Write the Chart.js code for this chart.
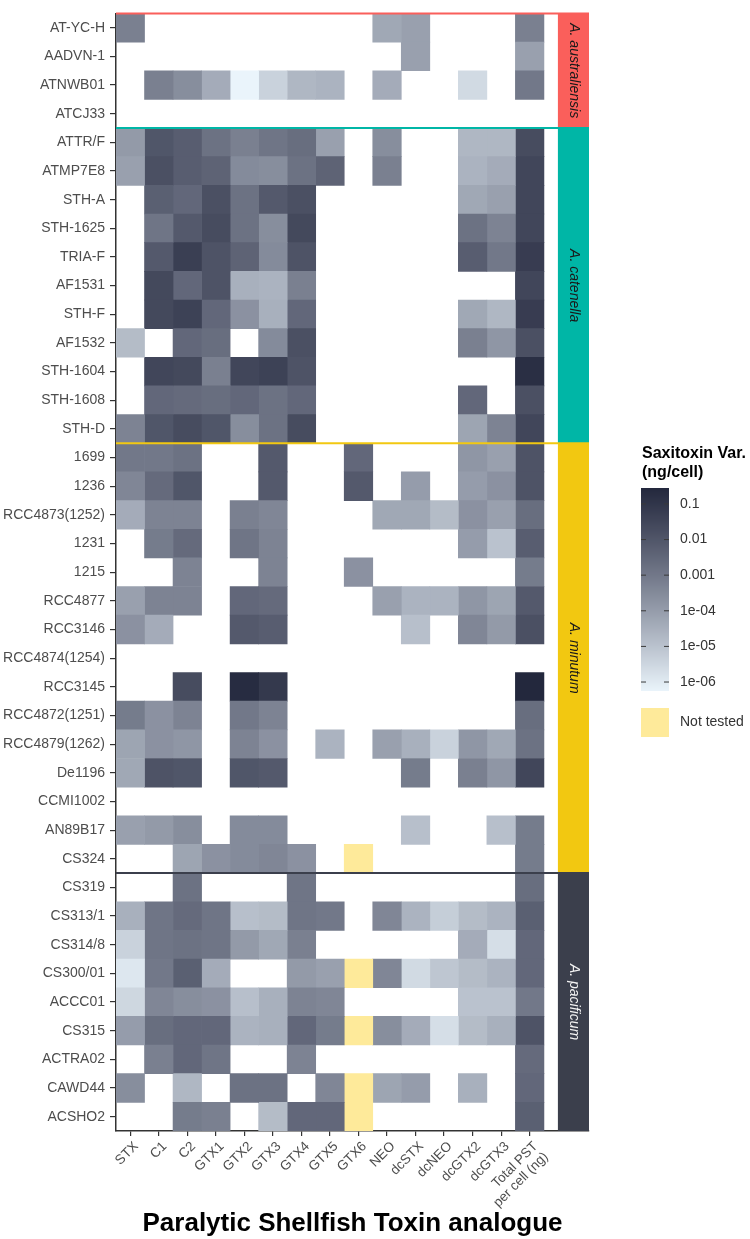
<!DOCTYPE html>
<html>
<head>
<meta charset="utf-8">
<title>PST analogue heatmap</title>
<script src="https://cdn.jsdelivr.net/npm/chart.js@4.4.1/dist/chart.umd.min.js"></script>
<style>
  html, body { margin: 0; padding: 0; background: #ffffff; }
  #wrap { position: relative; width: 750px; height: 1239px; }
</style>
</head>
<body>
<div id="wrap"><canvas id="heatmap"></canvas></div>
<script>
// Strains, top to bottom
const strains = [
    'AT-YC-H', 'AADVN-1', 'ATNWB01', 'ATCJ33',
    'ATTR/F', 'ATMP7E8', 'STH-A', 'STH-1625', 'TRIA-F', 'AF1531', 'STH-F', 'AF1532', 'STH-1604', 'STH-1608', 'STH-D',
    '1699', '1236', 'RCC4873(1252)', '1231', '1215', 'RCC4877', 'RCC3146', 'RCC4874(1254)', 'RCC3145',
    'RCC4872(1251)', 'RCC4879(1262)', 'De1196', 'CCMI1002', 'AN89B17', 'CS324',
    'CS319', 'CS313/1', 'CS314/8', 'CS300/01', 'ACCC01', 'CS315', 'ACTRA02', 'CAWD44', 'ACSHO2'
];

const species = ['A. australiensis', 'A. catenella', 'A. minutum', 'A. pacificum'];
const speciesCounts = [4, 11, 15, 9];
const speciesColors = ['#FA5F5B', '#00B6A6', '#F2C811', '#3B3F4C'];
const stripTextColors = ['#1a1a1a', '#1a1a1a', '#1a1a1a', '#f2f2f2'];

const toxinLabels = ['STX', 'C1', 'C2', 'GTX1', 'GTX2', 'GTX3', 'GTX4', 'GTX5', 'GTX6',
    'NEO', 'dcSTX', 'dcNEO', 'dcGTX2', 'dcGTX3', ['Total PST', 'per cell (ng)']];

// ng/cell, null = not detected, NT = not tested
const NT = 'NT';
const STX = [
    6e-4, null, null, null,
    1.2e-4, 8e-5, null, null, null, null, null, 1.5e-5, null, null, 5e-4,
    1e-3, 4e-4, 4e-5, null, null, 8e-5, 2e-4, null, null, 8e-4, 6e-5, 5e-5, null, 8e-5, null,
    null, 3e-5, 4e-6, 1.2e-6, 3e-6, 1e-4, null, 2.5e-4, null
];
const C1 = [
    null, null, 6e-4, null,
    0.01, 0.015, 0.005, 0.0012, 0.008, 0.025, 0.025, null, 0.03, 0.003, 0.01,
    1e-3, 0.0025, 5e-4, 8e-4, null, 5e-4, 4e-5, null, null, 2e-4, 2e-4, 0.012, null, 1.2e-4, null,
    null, 0.0012, 0.0012, 1e-3, 4e-4, 0.002, 6e-4, null, null
];
const C2 = [
    null, null, 2.5e-4, null,
    0.006, 0.006, 0.003, 0.008, 0.05, 0.003, 0.04, 0.003, 0.025, 0.0025, 0.02,
    0.0015, 0.01, 5e-4, 0.0025, 5e-4, 5e-4, null, null, 0.02, 5e-4, 1.5e-4, 0.01, null, 2.5e-4, 6e-5,
    0.0015, 0.0025, 0.0015, 0.005, 2.5e-4, 0.003, 0.003, 2e-5, 8e-4
];
const GTX1 = [
    null, null, 4e-5, null,
    0.0015, 0.004, 0.015, 0.02, 0.012, 0.012, 0.003, 0.002, 6e-4, 0.002, 0.01,
    null, null, null, null, null, null, null, null, null, null, null, null, null, null, 2e-4,
    null, 0.0012, 0.0012, 4e-5, 2e-4, 0.003, 0.0012, null, 6e-4
];
const GTX2 = [
    null, null, 5.6e-7, null,
    6e-4, 3e-4, 0.0015, 0.0015, 0.004, 3e-5, 2e-4, null, 0.03, 0.003, 2.5e-4,
    null, null, 6e-4, 0.0012, null, 0.003, 0.008, null, 0.2, 1e-3, 5e-4, 0.01, null, 3e-4, 3e-4,
    null, 1.2e-5, 1.2e-4, null, 1.2e-5, 2.5e-5, null, 0.0015, null
];
const GTX3 = [
    null, null, 4e-6, null,
    0.0012, 2.5e-4, 0.008, 2.5e-4, 3e-4, 2.5e-5, 3e-5, 3e-4, 0.04, 0.0015, 0.0015,
    0.008, 0.008, 4e-4, 5e-4, 5e-4, 0.0025, 0.006, null, 0.08, 5e-4, 2e-4, 0.008, null, 3e-4, 4e-4,
    null, 1.5e-5, 5e-5, null, 3e-5, 3e-5, null, 0.0015, 1.5e-5
];
const GTX4 = [
    null, null, 2e-5, null,
    0.002, 0.0015, 0.015, 0.025, 0.012, 6e-4, 0.003, 0.015, 0.012, 0.003, 0.02,
    null, null, null, null, null, null, null, null, null, null, null, null, null, null, 2e-4,
    0.0012, 0.0012, 6e-4, 1.2e-4, 5e-4, 0.003, 5e-4, null, 0.003
];
const GTX5 = [
    null, null, 2.5e-5, null,
    8e-5, 0.004, null, null, null, null, null, null, null, null, null,
    null, null, null, null, null, null, null, null, null, null, 2.5e-5, null, null, null, null,
    null, 1e-3, null, 8e-5, 4e-4, 8e-4, null, 4e-4, 0.003
];
const GTX6 = [
    null, null, null, null,
    null, null, null, null, null, null, null, null, null, null, null,
    0.003, 0.008, null, null, 2e-4, null, null, null, null, null, null, null, null, null, NT,
    null, null, null, NT, null, NT, null, NT, NT
];
const NEO = [
    5e-5, null, 4e-5, null,
    2.5e-4, 6e-4, null, null, null, null, null, null, null, null, null,
    null, null, 5e-5, null, null, 8e-5, null, null, null, null, 8e-5, null, null, null, null,
    null, 4e-4, null, 4e-4, null, 2.5e-4, null, 6e-5, null
];
const dcSTX = [
    8e-5, 8e-5, null, null,
    null, null, null, null, null, null, null, null, null, null, null,
    null, 1e-4, 5e-5, null, null, 2.5e-5, 1.2e-5, null, null, null, 3e-5, 8e-4, null, 1.2e-5, null,
    null, 2.5e-5, null, 2.5e-6, null, 4e-5, null, 1e-4, null
];
const dcNEO = [
    null, null, null, null,
    null, null, null, null, null, null, null, null, null, null, null,
    null, null, 1.5e-5, null, null, 2.5e-5, null, null, null, null, 4e-6, null, null, null, null,
    null, 5e-6, null, 8e-6, null, 2e-6, null, null, null
];
const dcGTX2 = [
    null, null, 2.5e-6, null,
    2e-5, 2.5e-5, 5e-5, 0.0015, 0.006, null, 5e-5, 6e-4, null, 0.003, 6e-5,
    1.5e-4, 1e-4, 2e-4, 1e-4, null, 1.5e-4, 4e-4, null, null, null, 1.5e-4, 6e-4, null, null, null,
    null, 1.5e-5, 4e-5, 1.5e-5, 1e-5, 1.5e-5, null, 3e-5, null
];
const dcGTX3 = [
    null, null, null, null,
    2e-5, 4e-5, 8e-5, 5e-4, 1e-3, null, 2e-5, 1.5e-4, null, null, 5e-4,
    8e-5, 2e-4, 8e-5, 1e-5, null, 6e-5, 1.2e-4, null, null, null, 5e-5, 1.5e-4, null, 1.2e-5, null,
    null, 2.5e-5, 2e-6, 2.5e-5, 1e-5, 3e-5, null, null, null
];
const TotalPST = [
    6e-4, 8e-5, 1e-3, null,
    0.02, 0.03, 0.03, 0.03, 0.06, 0.03, 0.06, 0.015, 0.16, 0.015, 0.03,
    0.012, 0.012, 0.002, 0.006, 8e-4, 0.008, 0.015, null, 0.28, 0.002, 0.0015, 0.03, null, 8e-4, 8e-4,
    0.002, 0.005, 0.003, 0.003, 1e-3, 0.012, 0.0025, 0.003, 0.005
];

const legendBreaks = [0.1, 0.01, 0.001, 1e-4, 1e-5, 1e-6];
const legendBreakLabels = ['0.1', '0.01', '0.001', '1e-04', '1e-05', '1e-06'];

const columns = [STX, C1, C2, GTX1, GTX2, GTX3, GTX4, GTX5, GTX6, NEO, dcSTX, dcNEO, dcGTX2, dcGTX3, TotalPST];

const FONT = "'Liberation Sans', Arial, Helvetica, sans-serif";
const LOW = '#EAF4FB';
const HIGH = '#23283D';
const NT_COLOR = '#FEEA9A';

// strip sits right of the last column, in x units
const stripFrom = 15.49;
const stripTo = 16.58;

// --- colour scale (log10, interpolated in CIELAB like ggplot) ---
function hex2rgb(h) {
    return [1, 3, 5].map(i => parseInt(h.slice(i, i + 2), 16));
}
function lin(c) {
    c /= 255;
    return c <= 0.04045 ? c / 12.92 : Math.pow((c + 0.055) / 1.055, 2.4);
}
function gam(c) {
    c = c <= 0.0031308 ? 12.92 * c : 1.055 * Math.pow(c, 1 / 2.4) - 0.055;
    return Math.round(Math.max(0, Math.min(1, c)) * 255);
}
const WX = 0.95047, WY = 1.0, WZ = 1.08883;
function f(t) { return t > 216 / 24389 ? Math.cbrt(t) : (24389 / 27 * t + 16) / 116; }
function finv(t) { const t3 = t * t * t; return t3 > 216 / 24389 ? t3 : (116 * t - 16) / (24389 / 27); }
function toLab(rgb) {
    const [r, g, b] = rgb.map(lin);
    const X = 0.4124 * r + 0.3576 * g + 0.1805 * b;
    const Y = 0.2126 * r + 0.7152 * g + 0.0722 * b;
    const Z = 0.0193 * r + 0.1192 * g + 0.9505 * b;
    const fx = f(X / WX), fy = f(Y / WY), fz = f(Z / WZ);
    return [116 * fy - 16, 500 * (fx - fy), 200 * (fy - fz)];
}
function fromLab([L, a, bb]) {
    const fy = (L + 16) / 116, fx = fy + a / 500, fz = fy - bb / 200;
    const X = WX * finv(fx), Y = WY * finv(fy), Z = WZ * finv(fz);
    const r = 3.2406 * X - 1.5372 * Y - 0.4986 * Z;
    const g = -0.9689 * X + 1.8758 * Y + 0.0415 * Z;
    const b = 0.0557 * X - 0.2040 * Y + 1.0570 * Z;
    return `rgb(${gam(r)}, ${gam(g)}, ${gam(b)})`;
}
const labLow = toLab(hex2rgb(LOW));
const labHigh = toLab(hex2rgb(HIGH));
const measured = columns.flat().filter(v => typeof v === 'number');
const logMin = Math.log10(Math.min(...measured));
const logMax = Math.log10(Math.max(...measured));

function colourForLog(lv) {
    const t = Math.max(0, Math.min(1, (lv - logMin) / (logMax - logMin)));
    return fromLab(labLow.map((c, i) => c + (labHigh[i] - c) * t));
}
function fillFor(v) {
    if (v === NT) return NT_COLOR;
    return colourForLog(Math.log10(v));
}

// one floating-bar dataset per toxin column
const datasets = columns.map((col, j) => ({
    label: Array.isArray(toxinLabels[j]) ? toxinLabels[j].join(' ') : toxinLabels[j],
    data: col.map(v => v == null ? null : [j, j + 1]),
    backgroundColor: col.map(v => v == null ? 'rgba(0,0,0,0)' : fillFor(v)),
    borderWidth: 0,
    grouped: false,
    barPercentage: 1,
    categoryPercentage: 1
}));

// species strips, group lines and colour legend
const panelDecor = {
    id: 'panelDecor',
    afterDatasetsDraw(chart) {
        const ctx = chart.ctx;
        const x = chart.scales.x;
        const y = chart.scales.y;
        const area = chart.chartArea;
        const band = y.getPixelForValue(1) - y.getPixelForValue(0);
        const x0 = x.getPixelForValue(stripFrom);
        const x1 = x.getPixelForValue(stripTo);
        let start = 0;
        ctx.save();
        speciesCounts.forEach((n, k) => {
            const top = y.getPixelForValue(start) - band / 2;
            const bottom = y.getPixelForValue(start + n - 1) + band / 2;
            ctx.fillStyle = speciesColors[k];
            ctx.fillRect(x0, top, x1 - x0, bottom - top);

            ctx.save();
            ctx.translate((x0 + x1) / 2, (top + bottom) / 2);
            ctx.rotate(Math.PI / 2);
            ctx.textAlign = 'center';
            ctx.textBaseline = 'middle';
            ctx.font = `italic 14px ${FONT}`;
            ctx.fillStyle = stripTextColors[k];
            ctx.fillText(species[k], 0, 0);
            ctx.restore();

            ctx.strokeStyle = speciesColors[k];
            ctx.lineWidth = 2;
            ctx.beginPath();
            ctx.moveTo(area.left, top);
            ctx.lineTo(area.right, top);
            ctx.stroke();
            start += n;
        });
        ctx.restore();
    },
    afterDraw(chart) {
        const ctx = chart.ctx;
        const lx = 641, lw = 28, top = 488, bottom = 691;
        ctx.save();
        ctx.fillStyle = '#000';
        ctx.textAlign = 'left';
        ctx.textBaseline = 'middle';
        ctx.font = `bold 16px ${FONT}`;
        ctx.fillText('Saxitoxin Var.', 642, 454);
        ctx.fillText('(ng/cell)', 642, 473);

        for (let py = top; py < bottom; py++) {
            const lv = logMax - (py + 0.5 - top) / (bottom - top) * (logMax - logMin);
            ctx.fillStyle = colourForLog(lv);
            ctx.fillRect(lx, py, lw, 1);
        }

        ctx.font = `14px ${FONT}`;
        legendBreaks.forEach((b, i) => {
            const py = top + (logMax - Math.log10(b)) / (logMax - logMin) * (bottom - top);
            ctx.strokeStyle = '#3a3a3a';
            ctx.lineWidth = 1;
            ctx.beginPath();
            ctx.moveTo(lx, py); ctx.lineTo(lx + 5, py);
            ctx.moveTo(lx + lw - 5, py); ctx.lineTo(lx + lw, py);
            ctx.stroke();
            ctx.fillStyle = '#333';
            ctx.fillText(legendBreakLabels[i], 680, py);
        });

        ctx.fillStyle = NT_COLOR;
        ctx.fillRect(lx, 708, lw, 29);
        ctx.fillStyle = '#333';
        ctx.fillText('Not tested', 680, 722);
        ctx.restore();
    }
};

new Chart(document.getElementById('heatmap'), {
    type: 'bar',
    data: { labels: strains, datasets: datasets },
    options: {
        indexAxis: 'y',
        responsive: true,
        maintainAspectRatio: false,
        animation: false,
        layout: { padding: { top: 3.7, right: 161, bottom: 0, left: 0 } },
        plugins: {
            legend: { display: false },
            tooltip: { enabled: false }
        },
        scales: {
            x: {
                type: 'linear',
                min: 0,
                max: stripTo,
                afterBuildTicks: scale => {
                    scale.ticks = toxinLabels.map((_, i) => ({ value: i + 0.5 }));
                },
                afterFit: scale => { scale.height = 108; },
                ticks: {
                    autoSkip: false,
                    minRotation: 45,
                    maxRotation: 45,
                    padding: 3,
                    labelOffset: 6,
                    color: '#4d4d4d',
                    font: { family: FONT, size: 13.5, lineHeight: 1.1 },
                    callback: (value, index) => toxinLabels[index]
                },
                grid: {
                    drawOnChartArea: false,
                    drawTicks: true,
                    tickLength: 5,
                    color: '#333',
                    lineWidth: 1.2
                },
                border: { display: true, color: '#333', width: 1.5 },
                title: {
                    display: true,
                    text: 'Paralytic Shellfish Toxin analogue',
                    color: '#000',
                    font: { family: FONT, size: 26, weight: 'bold' },
                    padding: { top: 0, bottom: 0 }
                }
            },
            y: {
                afterFit: scale => { scale.width = 116; },
                ticks: {
                    autoSkip: false,
                    padding: 5,
                    color: '#4d4d4d',
                    font: { family: FONT, size: 14 }
                },
                grid: {
                    offset: false,
                    drawOnChartArea: false,
                    drawTicks: true,
                    tickLength: 6,
                    color: '#333',
                    lineWidth: 1.2
                },
                border: { display: true, color: '#333', width: 1.5 }
            }
        }
    },
    plugins: [panelDecor]
});
</script>
</body>
</html>
